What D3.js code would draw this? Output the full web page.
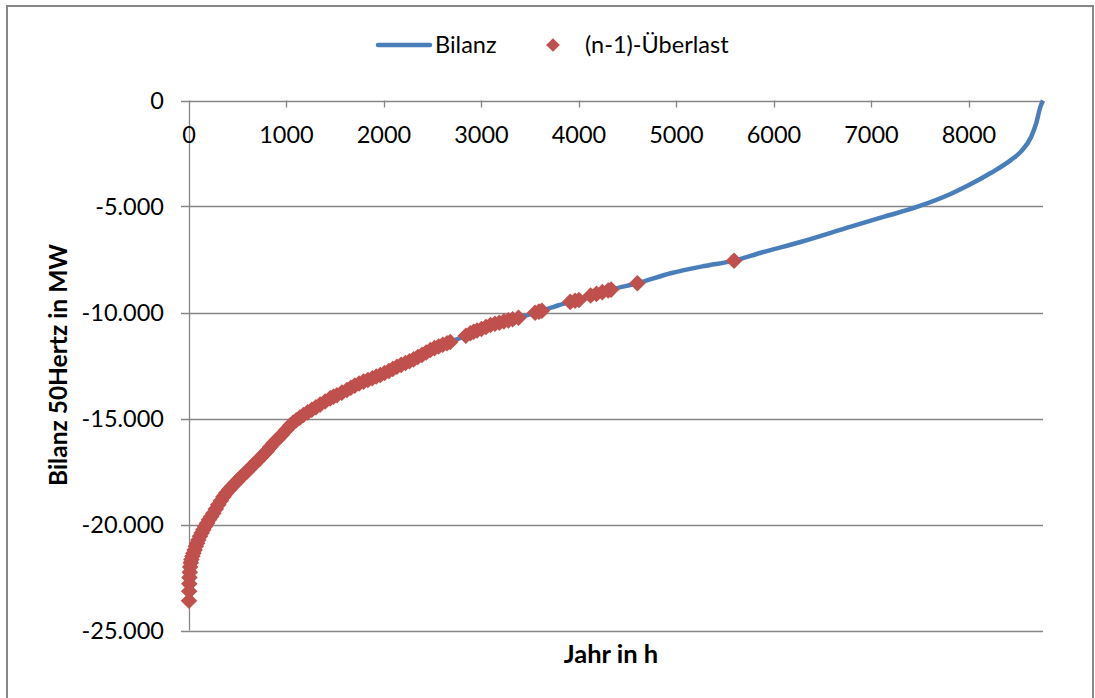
<!DOCTYPE html>
<html>
<head>
<meta charset="utf-8">
<script src="https://cdn.jsdelivr.net/npm/d3@7"></script>
<style>
  html, body { margin: 0; padding: 0; background: #fff; }
  svg text { font-family: Lato, "Open Sans", sans-serif; fill: #000; }
</style>
</head>
<body>
<div id="chart-container"></div>
<script>
/**************************************************
 * Data
 **************************************************/

// Bilanz 50Hertz, sorted duration curve: [hour, MW]
const bilanz = [
  [0, -23600], [3, -22650], [10, -22000], [25, -21650], [45, -21360], [70, -21030],
  [96, -20730], [130, -20400], [164, -20100], [205, -19780], [250, -19470], [300, -19070],
  [353, -18690], [410, -18360], [473, -18060], [530, -17780], [593, -17510], [660, -17190],
  [729, -16880], [800, -16530], [866, -16170], [950, -15780], [1037, -15330], [1100, -15080],
  [1174, -14835], [1260, -14590], [1345, -14345], [1448, -14050], [1517, -13900], [1620, -13655],
  [1700, -13450], [1791, -13260], [1880, -13100], [1962, -12950], [2050, -12760], [2133, -12560],
  [2220, -12380], [2304, -12210], [2390, -12000], [2476, -11770], [2560, -11600], [2647, -11450],
  [2720, -11320], [2784, -11200], [2887, -10980], [2955, -10850], [3092, -10590], [3230, -10420],
  [3366, -10270], [3470, -10120], [3590, -9960], [3743, -9730], [3890, -9520], [4010, -9400],
  [4100, -9230], [4230, -9050], [4355, -8890], [4599, -8620], [4941, -8150], [5283, -7810],
  [5591, -7555], [5866, -7180], [6273, -6675], [6790, -5950], [7132, -5480], [7474, -5010],
  [7817, -4400], [8000, -3990], [8228, -3410], [8433, -2800], [8536, -2400], [8639, -1710],
  [8690, -1080], [8734, -290], [8760, 0]
];

// (n-1)-Überlast hours: [hour, MW]
const ueberlast = [
  [0, -23600], [2, -23150], [3, -22800], [5, -22500], [8, -22250], [12, -22000],
  [18, -21800], [25, -21650], [35, -21500], [45, -21360], [58, -21200], [70, -21030],
  [83, -20880], [96, -20730], [113, -20560], [130, -20400], [147, -20250], [164, -20100],
  [185, -19940], [205, -19780], [228, -19620], [250, -19470], [275, -19270], [300, -19070],
  [327, -18880], [353, -18690], [382, -18520], [410, -18360], [441, -18210], [473, -18060],
  [501, -17920], [530, -17780], [561, -17640], [593, -17510], [626, -17350], [660, -17190],
  [694, -17030], [729, -16880], [765, -16700], [800, -16530], [833, -16350], [866, -16170],
  [908, -15980], [950, -15780], [994, -15560], [1037, -15330], [1068, -15200], [1100, -15080],
  [1137, -14960], [1174, -14835], [1217, -14710], [1260, -14590], [1302, -14470], [1345, -14345],
  [1396, -14200], [1448, -14050], [1482, -13970], [1517, -13900], [1568, -13780], [1620, -13655],
  [1660, -13550], [1700, -13450], [1745, -13350], [1791, -13260], [1835, -13180], [1880, -13100],
  [1921, -13020], [1962, -12950], [2006, -12850], [2050, -12760], [2091, -12660], [2133, -12560],
  [2176, -12470], [2220, -12380], [2262, -12300], [2304, -12210], [2347, -12100], [2390, -12000],
  [2433, -11890], [2476, -11770], [2518, -11680], [2560, -11600], [2603, -11520], [2647, -11450],
  [2680, -11390],
  [2840, -11100], [2887, -10980], [2920, -10910], [2955, -10850], [3000, -10780], [3046, -10680],
  [3092, -10590], [3138, -10530], [3184, -10480], [3230, -10420], [3276, -10370], [3320, -10320],
  [3380, -10250],
  [3550, -10010], [3590, -9960], [3620, -9920],
  [3910, -9500], [3960, -9450], [4000, -9410],
  [4120, -9200], [4180, -9120], [4240, -9040], [4300, -8960], [4330, -8920],
  [4599, -8620],
  [5591, -7555]
];

const xTicks = [0, 1000, 2000, 3000, 4000, 5000, 6000, 7000, 8000];
const yTicks = [0, -5000, -10000, -15000, -20000, -25000];
const yTickLabels = ["0", "-5.000", "-10.000", "-15.000", "-20.000", "-25.000"];
const seriesNames = ["Bilanz", "(n-1)-Überlast"];

/**************************************************
 * Rendering
 **************************************************/

const W = 1095, H = 698;
const lineColor = "#4a7ebb";
const markerColor = "#c0504d";
const gridColor = "#868686";
const tickFont = "23.5px";

const svg = d3.select("#chart-container")
  .append("svg")
  .attr("width", W)
  .attr("height", H);

// outer chart frame
svg.append("rect")
  .attr("x", 7).attr("y", 6)
  .attr("width", 1086).attr("height", 720)
  .attr("fill", "#fff")
  .attr("stroke", "#878787")
  .attr("stroke-width", 2);

const x = d3.scaleLinear().domain([0, 8760]).range([189, 1043]);
const y = d3.scaleLinear().domain([-25000, 0]).range([630.5, 100.5]);

// horizontal gridlines (with little outward ticks)
svg.append("g")
  .selectAll("line")
  .data(yTicks)
  .enter().append("line")
  .attr("x1", 181).attr("x2", x(8760))
  .attr("y1", d => Math.round(y(d)) + 0.5)
  .attr("y2", d => Math.round(y(d)) + 0.5)
  .attr("stroke", gridColor)
  .attr("stroke-width", 1.3);

// y axis line
svg.append("line")
  .attr("x1", x(0) + 0.5).attr("x2", x(0) + 0.5)
  .attr("y1", y(0)).attr("y2", y(-25000))
  .attr("stroke", gridColor)
  .attr("stroke-width", 1.3);

// x axis ticks, hanging down from the zero line
svg.append("g")
  .selectAll("line")
  .data(xTicks.slice(1))
  .enter().append("line")
  .attr("x1", d => Math.round(x(d)) + 0.5)
  .attr("x2", d => Math.round(x(d)) + 0.5)
  .attr("y1", y(0)).attr("y2", y(0) + 7)
  .attr("stroke", gridColor)
  .attr("stroke-width", 1.3);

// tick labels
svg.append("g")
  .selectAll("text")
  .data(xTicks)
  .enter().append("text")
  .attr("x", d => x(d))
  .attr("y", 143)
  .attr("text-anchor", "middle")
  .attr("font-size", tickFont)
  .text(d => d);

svg.append("g")
  .selectAll("text")
  .data(yTicks)
  .enter().append("text")
  .attr("x", 164)
  .attr("y", d => y(d) + 8)
  .attr("text-anchor", "end")
  .attr("font-size", tickFont)
  .text((d, i) => yTickLabels[i]);

// Bilanz line
const line = d3.line()
  .x(d => x(d[0]))
  .y(d => y(d[1]))
  .curve(d3.curveMonotoneX);

svg.append("path")
  .datum(bilanz)
  .attr("d", line)
  .attr("fill", "none")
  .attr("stroke", lineColor)
  .attr("stroke-width", 4.5)
  .attr("stroke-linejoin", "round");

// (n-1)-Überlast markers
const diamond = d3.symbol().type(d3.symbolDiamond2).size(175);
svg.append("g")
  .selectAll("path")
  .data(ueberlast)
  .enter().append("path")
  .attr("transform", d => `translate(${x(d[0])},${y(d[1])})`)
  .attr("d", diamond)
  .attr("fill", markerColor);

// axis titles
svg.append("text")
  .attr("x", 611).attr("y", 663)
  .attr("text-anchor", "middle")
  .attr("font-size", "25.5px")
  .attr("font-weight", "bold")
  .text("Jahr in h");

svg.append("text")
  .attr("transform", "translate(67,365) rotate(-90)")
  .attr("text-anchor", "middle")
  .attr("font-size", "24.5px")
  .attr("font-weight", "bold")
  .text("Bilanz 50Hertz in MW");

// legend
const legend = svg.append("g");
legend.append("line")
  .attr("x1", 378).attr("x2", 430)
  .attr("y1", 45).attr("y2", 45)
  .attr("stroke", lineColor)
  .attr("stroke-width", 4.5)
  .attr("stroke-linecap", "round");
legend.append("text")
  .attr("x", 435).attr("y", 53)
  .attr("font-size", tickFont)
  .text(seriesNames[0]);
legend.append("path")
  .attr("transform", "translate(553,45)")
  .attr("d", d3.symbol().type(d3.symbolDiamond2).size(120))
  .attr("fill", markerColor);
legend.append("text")
  .attr("x", 585).attr("y", 53)
  .attr("font-size", tickFont)
  .text(seriesNames[1]);
</script>
</body>
</html>
